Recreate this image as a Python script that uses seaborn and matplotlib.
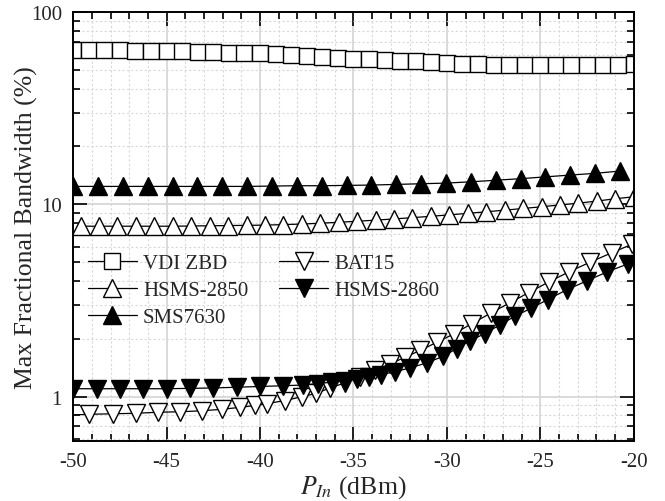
import numpy as np
import matplotlib
matplotlib.use("Agg")
import matplotlib.pyplot as plt
import seaborn as sns
from matplotlib.ticker import MultipleLocator, LogLocator, NullFormatter, FuncFormatter

# -------------------------- Data --------------------------
vdi_x = np.linspace(-50, -20, 37)
vdi_y = [63.5, 63.4, 63.3, 63.2, 63.0, 62.8, 62.6, 62.4, 62.2, 61.9, 61.6, 61.3,
         61.0, 60.5, 59.8, 59.1, 58.5, 57.8, 57.2, 56.7, 56.2, 55.8, 55.4, 54.9,
         54.4, 54.0, 53.6, 53.3, 53.1, 53.0, 52.9, 52.9, 52.9, 53.0, 53.1, 53.3, 53.6]

hsms2850_x = np.linspace(-49.6, -20, 31)
hsms2850_y = [7.7, 7.7, 7.7, 7.7, 7.7, 7.7, 7.72, 7.74, 7.76, 7.78, 7.8, 7.85,
              7.9, 7.98, 8.07, 8.17, 8.28, 8.4, 8.53, 8.67, 8.82, 8.98, 9.15,
              9.33, 9.52, 9.72, 9.93, 10.15, 10.4, 10.7, 10.95]

sms7630_x = [-50.0, -48.67, -47.34, -46.01, -44.68, -43.35, -42.02, -40.69,
             -39.36, -38.03, -36.7, -35.37, -34.04, -32.71, -31.38, -30.05,
             -28.72, -27.39, -26.06, -24.73, -23.4, -22.07, -20.74]
sms7630_y = [12.4, 12.4, 12.4, 12.4, 12.4, 12.4, 12.4, 12.4, 12.45, 12.5, 12.5,
             12.55, 12.6, 12.7, 12.8, 12.9, 13.1, 13.35, 13.6, 13.9, 14.2, 14.5, 14.9]

bat15_x = [-50.6, -49.14, -47.86, -46.63, -45.45, -44.28, -43.1, -42.03, -41.07,
           -40.27, -39.63, -38.66, -37.75, -37.0, -36.26, -35.45, -34.65, -33.85,
           -33.05, -32.25, -31.44, -30.53, -29.63, -28.66, -27.65, -26.63, -25.61,
           -24.55, -23.48, -22.35, -21.18, -20.1]
bat15_y = [0.80, 0.81, 0.815, 0.82, 0.83, 0.835, 0.845, 0.86, 0.88, 0.90, 0.92,
           0.955, 1.0, 1.04, 1.11, 1.18, 1.27, 1.37, 1.48, 1.60, 1.74, 1.92, 2.12,
           2.40, 2.72, 3.08, 3.48, 3.95, 4.45, 5.0, 5.6, 6.2]

hsms2860_x = [-50.0, -48.72, -47.49, -46.26, -44.97, -43.74, -42.51, -41.23, -40.0,
              -38.77, -37.7, -36.9, -36.15, -35.45, -34.81, -34.17, -33.53, -32.78,
              -31.98, -31.07, -30.21, -29.47, -28.77, -27.97, -27.17, -26.36, -25.51,
              -24.6, -23.58, -22.51, -21.44, -20.32]
hsms2860_y = [1.10, 1.10, 1.10, 1.10, 1.10, 1.105, 1.11, 1.12, 1.13, 1.14, 1.15,
              1.17, 1.19, 1.21, 1.24, 1.27, 1.30, 1.35, 1.41, 1.50, 1.62, 1.78,
              1.95, 2.13, 2.36, 2.62, 2.88, 3.2, 3.6, 4.0, 4.45, 4.9]

# -------------------------- Style --------------------------
sns.set_theme(style="ticks")
plt.rcParams["font.family"] = ["Liberation Serif", "DejaVu Serif"]
plt.rcParams["mathtext.fontset"] = "stix"
plt.rcParams["axes.unicode_minus"] = False

fig = plt.figure(figsize=(6.65, 5.02), dpi=100)
ax = fig.add_axes([0.110, 0.120, 0.843, 0.854])

series = [
    (vdi_x, vdi_y, "VDI ZBD", "s", "white", 11.5),
    (hsms2850_x, hsms2850_y, "HSMS-2850", "^", "white", 13.5),
    (sms7630_x, sms7630_y, "SMS7630", "^", "black", 13.5),
    (bat15_x, bat15_y, "BAT15", "v", "white", 13.5),
    (hsms2860_x, hsms2860_y, "HSMS-2860", "v", "black", 13.5),
]
for xs, ys, lab, mk, fc, ms in series:
    sns.lineplot(x=xs, y=ys, ax=ax, sort=False, errorbar=None, color="black",
                 linewidth=0.9, marker=mk, markersize=ms, markerfacecolor=fc,
                 markeredgecolor="black", markeredgewidth=1.0, label=lab)

ax.set_yscale("log")
ax.set_xlim(-50, -20)
ax.set_ylim(0.59, 100)

ax.xaxis.set_major_locator(MultipleLocator(5))
ax.xaxis.set_minor_locator(MultipleLocator(1))
ax.yaxis.set_major_locator(LogLocator(base=10))
ax.yaxis.set_minor_locator(LogLocator(base=10, subs=np.arange(2, 10)))
ax.yaxis.set_major_formatter(FuncFormatter(lambda v, p: f"{v:g}"))
ax.yaxis.set_minor_formatter(NullFormatter())

ax.grid(which="major", color="#d4d4d4", linewidth=1.2, linestyle="-")
ax.grid(which="minor", color="#d8d8d8", linewidth=0.8, linestyle=(0, (2, 2)))
ax.set_axisbelow(True)

ax.tick_params(which="both", direction="in", top=True, right=True,
               color="black", width=1.2, labelsize=15)
ax.tick_params(which="major", length=10, pad=8)
ax.tick_params(which="minor", length=5)
for sp in ax.spines.values():
    sp.set_linewidth(1.4)
    sp.set_color("black")

ax.set_xlabel(r"$P_{In}$ (dBm)", fontsize=18.5, labelpad=2)
ax.set_ylabel("Max Fractional Bandwidth (%)", fontsize=18.5)
ax.yaxis.set_label_coords(-0.062, 0.5)

handles, labels = ax.get_legend_handles_labels()
ax.legend(handles, labels, ncol=2, loc="upper left", bbox_to_anchor=(0.0, 0.47),
          frameon=False, fontsize=15, handlelength=2.35, handletextpad=0.3,
          columnspacing=1.5, labelspacing=0.35, borderaxespad=0.3)

fig.savefig("out.png", dpi=100)
